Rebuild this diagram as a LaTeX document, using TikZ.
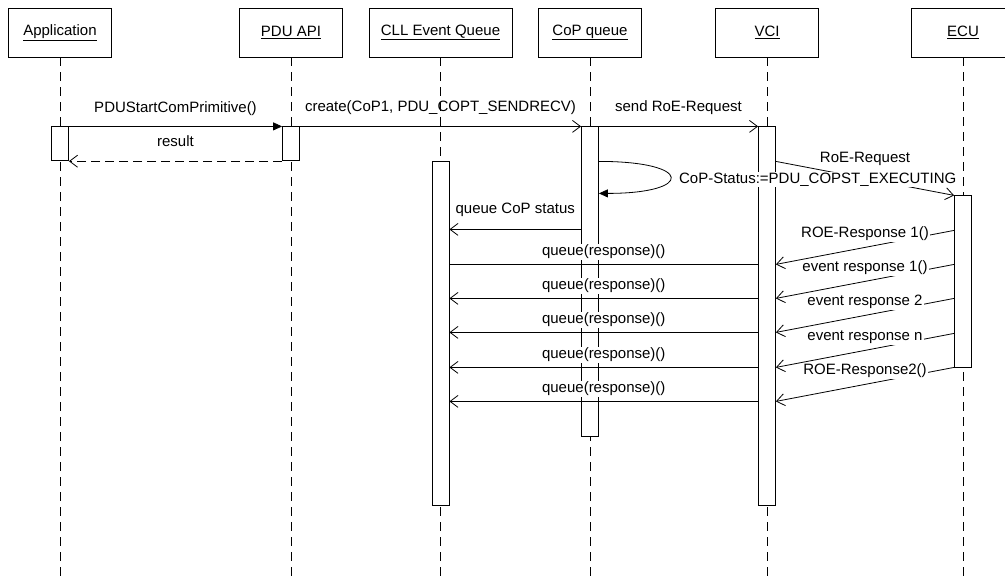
\documentclass[tikz,border=0pt]{standalone}
\usepackage{fontspec}
\setmainfont{Liberation Sans}
\usepackage{tikz}
\usetikzlibrary{arrows.meta, positioning, calc}
\tikzstyle{object} = [rectangle, draw=black, line width=0.8pt, minimum width=103pt, minimum height=49pt, inner sep=0pt]
\tikzstyle{lifeline} = [line width=0.8pt, dash pattern=on 9pt off 6pt]
\tikzstyle{activation} = [rectangle, draw=black, fill=white, line width=0.8pt, minimum width=17pt, inner sep=0pt]
\tikzstyle{plain} = [line width=0.8pt]
\tikzstyle{call} = [plain, -{Triangle[length=9pt, width=8pt]}]
\tikzstyle{message} = [plain, -{Straight Barb[length=8pt, width=12pt]}]
\tikzstyle{reply} = [message, dash pattern=on 9pt off 5pt]
\tikzstyle{msglabel} = [fill=white, inner sep=1pt, anchor=base]

\begin{document}
\begin{tikzpicture}[x=1pt, y=-1pt, font=\fontsize{15}{18}\selectfont]
    \useasboundingbox (0,0) rectangle (1005,581);
    \coordinate (bottom) at (0,581);

    % objects
    \node (app) [object] at (60,32.5) {\underline{Application}};
    \node (api) [object] at (291,32.5) {\underline{PDU API}};
    \node (cll) [object, minimum width=143pt] at (440.5,32.5) {\underline{CLL Event Queue}};
    \node (cop) [object] at (590,32.5) {\underline{CoP queue}};
    \node (vci) [object] at (767,32.5) {\underline{VCI}};
    \node (ecu) [object] at (963,32.5) {\underline{ECU}};

    \foreach \n in {app,api,cll,cop,vci,ecu}
        \draw [lifeline] (\n.south) -- (\n.south |- bottom);

    % activations
    \node (appact) [activation, minimum height=34pt, below=69pt of app] {};
    \node (apiact) [activation, minimum height=34pt, below=69pt of api] {};
    \node (cllact) [activation, minimum height=344pt, below=104pt of cll] {};
    \node (copact) [activation, minimum height=310pt, below=69pt of cop] {};
    \node (vciact) [activation, minimum height=379pt, below=69pt of vci] {};
    \node (ecuact) [activation, minimum height=172pt, below=138pt of ecu] {};

    \draw [call] (appact.north east) -- node[msglabel, yshift=14pt] {PDUStartComPrimitive()} (apiact.north west);
    \draw [reply] (apiact.south west) -- node[msglabel, yshift=15pt] {result} (appact.south east);
    \draw [message] (apiact.north east) -- node[msglabel, fill=none, yshift=15pt] {create(CoP1, PDU\_COPT\_SENDRECV)} (copact.north west);
    \draw [message] (copact.north east) -- node[msglabel, yshift=15pt] {send RoE-Request} (vciact.north west);

    \coordinate (rq) at ($(vciact.north east)+(0,35)$);
    \draw [message] (rq) -- node[msglabel, yshift=16pt] {RoE-Request} (ecuact.north west);

    % self call
    \coordinate (s1) at ($(copact.north east)+(0,35)$);
    \coordinate (s2) at ($(copact.north east)+(0,67)$);
    \draw [call] (s1) .. controls +(95,0) and +(95,0) .. (s2);
    \node [msglabel, anchor=base west] at ($(s1)!0.5!(s2)+(79,6)$) {CoP-Status:=PDU\_COPST\_EXECUTING};

    \coordinate (qs) at ($(copact.north west)+(0,103)$);
    \draw [message] (qs) -- node[msglabel, yshift=16pt] {queue CoP status} (qs -| cllact.east);

    \foreach \y/\txt [count=\i] in {35/{ROE-Response 1()}, 69/{event response 1()}, 103/{event response 2}, 138/{event response n}, 172/{ROE-Response2()}} {
        \coordinate (r\i) at ($(ecuact.north west)+(0,\y)$);
        \coordinate (v\i) at ($(r\i -| vciact.east)+(0,34)$);
        \draw [message] (r\i) -- node[msglabel, yshift=10pt] {\txt} (v\i);
    }

    \foreach \y/\tip [count=\i] in {138/plain, 172/message, 206/message, 241/message, 275/message} {
        \coordinate (q\i) at ($(vciact.north west)+(0,\y)$);
        \draw [\tip] (q\i) -- node[msglabel, yshift=9pt] {queue(response)()} (q\i -| cllact.east);
    }
\end{tikzpicture}
\end{document}
